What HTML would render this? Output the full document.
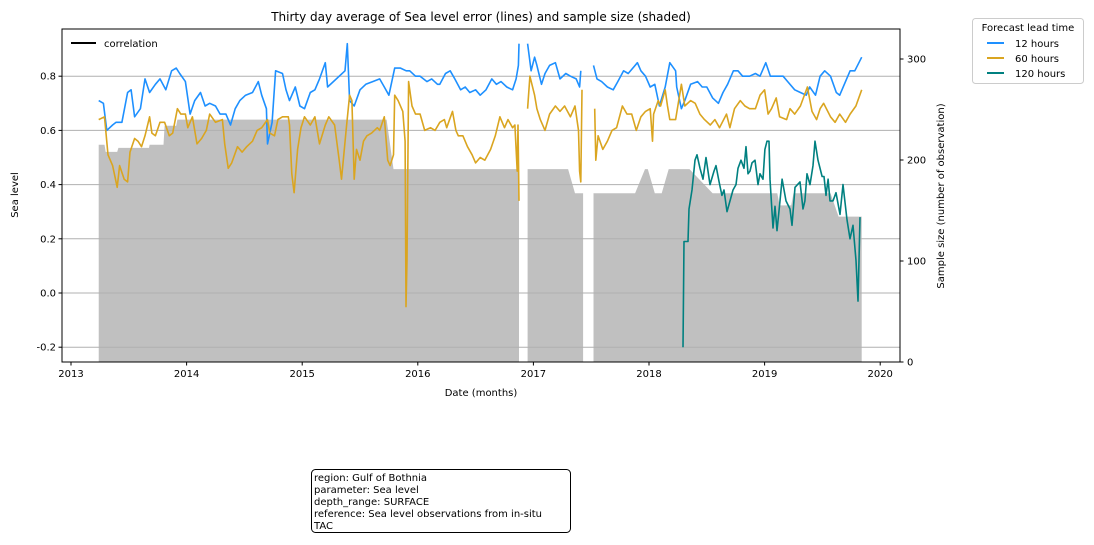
<!DOCTYPE html>
<html><head><meta charset="utf-8"><style>
body{margin:0;background:#fff;width:1094px;height:540px;overflow:hidden;font-family:"Liberation Sans","DejaVu Sans",sans-serif}
svg text{font-family:"DejaVu Sans","Liberation Sans",sans-serif;fill:#000}
</style></head><body>
<svg id="chart" width="1094" height="540" xmlns="http://www.w3.org/2000/svg">
<text x="481" y="21" font-size="12" text-anchor="middle">Thirty day average of Sea level error (lines) and sample size (shaded)</text>
<g id="plot"></g>
<rect x="62" y="29" width="838" height="333" fill="none" stroke="#000" stroke-width="1"/>
<g id="axes" font-size="10"></g>
<text transform="translate(18,195) rotate(-90)" font-size="10" text-anchor="middle">Sea level</text>
<text transform="translate(944,196) rotate(-90)" font-size="10" text-anchor="middle">Sample size (number of observation)</text>
<text x="481" y="396" font-size="10" text-anchor="middle">Date (months)</text>
<g>
<line x1="71" y1="43" x2="96" y2="43" stroke="#000" stroke-width="2"/>
<text x="104" y="47" font-size="10">correlation</text>
</g>
<g>
<rect x="972.5" y="18.5" width="111" height="65" rx="3" fill="#fff" stroke="#ccc"/>
<text x="1028" y="31" font-size="10" text-anchor="middle">Forecast lead time</text>
<line x1="987" y1="43" x2="1004" y2="43" stroke="#1e90ff" stroke-width="2"/>
<text x="1015" y="47" font-size="10">12 hours</text>
<line x1="987" y1="58" x2="1004" y2="58" stroke="#daa520" stroke-width="2"/>
<text x="1015" y="62" font-size="10">60 hours</text>
<line x1="987" y1="73" x2="1004" y2="73" stroke="#008080" stroke-width="2"/>
<text x="1015" y="77" font-size="10">120 hours</text>
</g>
<g>
<rect x="311.5" y="469.5" width="259" height="63" rx="4" fill="#fff" stroke="#000"/>
<text x="314" y="481" font-size="10">region: Gulf of Bothnia</text>
<text x="314" y="493" font-size="10">parameter: Sea level</text>
<text x="314" y="505" font-size="10">depth_range: SURFACE</text>
<text x="314" y="517" font-size="10">reference: Sea level observations from in-situ</text>
<text x="314" y="529" font-size="10">TAC</text>
</g>
</svg>
<script>
const yTicks=[-0.2,0,0.2,0.4,0.6,0.8];
const y2Ticks=[0,100,200,300];
const xTicks=[2013,2014,2015,2016,2017,2018,2019,2020];
const t12=[2013.24,2013.28,2013.31,2013.36,2013.39,2013.44,2013.49,2013.52,2013.55,2013.60,2013.64,2013.68,2013.73,2013.77,2013.82,2013.87,2013.91,2013.94,2013.99,2014.03,2014.07,2014.12,2014.16,2014.20,2014.25,2014.29,2014.34,2014.38,2014.42,2014.46,2014.51,2014.57,2014.62,2014.65,2014.69,2014.70,2014.74,2014.77,2014.83,2014.86,2014.89,2014.94,2014.98,2015.02,2015.07,2015.11,2015.15,2015.20,2015.22,2015.37,2015.39,2015.41,2015.45,2015.50,2015.55,2015.61,2015.67,2015.71,2015.75,2015.80,2015.85,2015.90,2015.93,2015.98,2016.02,2016.08,2016.12,2016.17,2016.19,2016.24,2016.28,2016.32,2016.37,2016.41,2016.45,2016.50,2016.54,2016.59,2016.64,2016.68,2016.72,2016.77,2016.82,2016.85,2016.87,2016.875,null,2016.95,2016.98,2017.01,2017.03,2017.07,2017.10,2017.14,2017.19,2017.23,2017.28,2017.32,2017.37,2017.40,2017.41,null,2017.52,2017.55,2017.59,2017.64,2017.69,2017.73,2017.78,2017.82,2017.86,2017.90,2017.93,2017.97,2018.01,2018.05,2018.09,2018.14,2018.18,2018.23,2018.24,2018.28,2018.31,2018.36,2018.42,2018.46,2018.50,2018.55,2018.60,2018.64,2018.68,2018.73,2018.77,2018.81,2018.87,2018.92,2018.96,2019.01,2019.05,2019.11,2019.16,2019.20,2019.26,2019.31,2019.36,2019.39,2019.44,2019.48,2019.52,2019.57,2019.62,2019.65,2019.70,2019.74,2019.78,2019.84];
const v12=[0.71,0.70,0.60,0.62,0.63,0.63,0.74,0.75,0.65,0.68,0.79,0.74,0.77,0.79,0.75,0.82,0.83,0.81,0.78,0.66,0.71,0.74,0.69,0.70,0.69,0.66,0.66,0.62,0.68,0.71,0.73,0.74,0.78,0.73,0.68,0.55,0.63,0.82,0.81,0.75,0.71,0.76,0.69,0.68,0.74,0.75,0.79,0.85,0.76,0.82,0.92,0.71,0.69,0.75,0.77,0.78,0.79,0.76,0.73,0.83,0.83,0.82,0.82,0.80,0.80,0.78,0.79,0.77,0.77,0.81,0.82,0.79,0.75,0.76,0.74,0.75,0.73,0.75,0.79,0.77,0.78,0.76,0.75,0.79,0.84,0.92,null,0.92,0.82,0.87,0.84,0.77,0.81,0.84,0.85,0.79,0.81,0.80,0.79,0.76,0.82,null,0.84,0.79,0.78,0.76,0.75,0.78,0.82,0.81,0.83,0.85,0.82,0.80,0.76,0.77,0.69,0.76,0.85,0.82,0.76,0.68,0.71,0.77,0.78,0.76,0.76,0.72,0.70,0.74,0.77,0.82,0.82,0.80,0.80,0.81,0.80,0.85,0.80,0.80,0.80,0.78,0.75,0.74,0.73,0.76,0.73,0.80,0.82,0.80,0.74,0.73,0.78,0.82,0.82,0.87];
const t60=[2013.24,2013.29,2013.32,2013.36,2013.40,2013.42,2013.46,2013.49,2013.51,2013.55,2013.58,2013.61,2013.64,2013.68,2013.70,2013.73,2013.77,2013.81,2013.85,2013.88,2013.92,2013.95,2013.99,2014.01,2014.05,2014.09,2014.13,2014.17,2014.20,2014.25,2014.31,2014.33,2014.36,2014.39,2014.44,2014.48,2014.52,2014.57,2014.61,2014.65,2014.70,2014.72,2014.76,2014.79,2014.83,2014.88,2014.89,2014.91,2014.93,2014.96,2014.99,2015.02,2015.07,2015.11,2015.15,2015.20,2015.23,2015.28,2015.32,2015.34,2015.38,2015.41,2015.43,2015.45,2015.47,2015.50,2015.53,2015.56,2015.60,2015.65,2015.67,2015.71,2015.74,2015.76,2015.79,2015.80,2015.83,2015.87,2015.89,2015.898,2015.907,2015.92,2015.95,2015.98,2016.02,2016.06,2016.11,2016.15,2016.19,2016.23,2016.25,2016.30,2016.33,2016.35,2016.39,2016.43,2016.47,2016.50,2016.54,2016.58,2016.63,2016.67,2016.71,2016.75,2016.78,2016.82,2016.84,2016.86,2016.867,2016.875,null,2016.95,2016.97,2017.01,2017.03,2017.06,2017.10,2017.14,2017.19,2017.23,2017.27,2017.32,2017.36,2017.39,2017.40,2017.41,2017.42,null,2017.53,2017.54,2017.56,2017.60,2017.64,2017.68,2017.72,2017.77,2017.81,2017.85,2017.89,2017.93,2017.97,2018.01,2018.03,2018.04,2018.08,2018.10,2018.14,2018.16,2018.18,2018.23,2018.28,2018.31,2018.36,2018.40,2018.44,2018.48,2018.53,2018.57,2018.61,2018.67,2018.70,2018.74,2018.79,2018.83,2018.87,2018.92,2018.96,2019.00,2019.03,2019.06,2019.10,2019.13,2019.19,2019.22,2019.26,2019.31,2019.37,2019.41,2019.45,2019.48,2019.51,2019.57,2019.61,2019.65,2019.70,2019.74,2019.79,2019.84];
const v60=[0.64,0.65,0.51,0.47,0.39,0.47,0.42,0.41,0.52,0.57,0.56,0.54,0.58,0.65,0.59,0.58,0.63,0.63,0.58,0.59,0.68,0.66,0.66,0.61,0.65,0.55,0.57,0.60,0.66,0.63,0.64,0.55,0.46,0.48,0.54,0.52,0.54,0.56,0.60,0.61,0.64,0.59,0.58,0.64,0.65,0.65,0.62,0.44,0.37,0.53,0.61,0.65,0.62,0.65,0.55,0.62,0.65,0.62,0.49,0.42,0.60,0.73,0.71,0.42,0.53,0.49,0.56,0.58,0.59,0.61,0.60,0.65,0.49,0.47,0.51,0.73,0.71,0.67,0.56,-0.05,0.12,0.78,0.69,0.66,0.66,0.60,0.61,0.60,0.63,0.64,0.61,0.67,0.60,0.58,0.58,0.54,0.51,0.48,0.50,0.49,0.53,0.58,0.65,0.61,0.64,0.61,0.62,0.45,0.62,0.34,null,0.68,0.80,0.73,0.68,0.64,0.60,0.66,0.69,0.67,0.69,0.65,0.69,0.60,0.45,0.41,0.75,null,0.68,0.49,0.58,0.53,0.56,0.60,0.61,0.69,0.66,0.66,0.60,0.65,0.67,0.68,0.56,0.66,0.71,0.69,0.75,0.69,0.64,0.64,0.77,0.69,0.71,0.70,0.66,0.64,0.62,0.64,0.61,0.66,0.61,0.68,0.71,0.69,0.68,0.68,0.73,0.75,0.66,0.68,0.72,0.65,0.64,0.68,0.66,0.69,0.76,0.67,0.64,0.68,0.70,0.65,0.63,0.66,0.63,0.66,0.69,0.75];
const t120=[2018.294,2018.303,2018.337,2018.346,2018.372,2018.398,2018.415,2018.441,2018.467,2018.493,2018.528,2018.562,2018.580,2018.606,2018.631,2018.649,2018.675,2018.701,2018.727,2018.753,2018.770,2018.796,2018.822,2018.839,2018.856,2018.874,2018.891,2018.917,2018.943,2018.960,2018.986,2019.003,2019.021,2019.038,2019.047,2019.073,2019.090,2019.107,2019.133,2019.151,2019.185,2019.220,2019.237,2019.263,2019.306,2019.332,2019.349,2019.367,2019.393,2019.419,2019.436,2019.462,2019.497,2019.514,2019.531,2019.549,2019.566,2019.592,2019.618,2019.652,2019.678,2019.713,2019.739,2019.765,2019.791,2019.808,2019.817,2019.825];
const v120=[-0.20,0.19,0.19,0.31,0.38,0.49,0.51,0.46,0.42,0.50,0.40,0.45,0.47,0.41,0.36,0.38,0.30,0.34,0.38,0.40,0.46,0.49,0.46,0.54,0.44,0.45,0.48,0.49,0.40,0.44,0.42,0.53,0.56,0.56,0.42,0.24,0.32,0.23,0.34,0.42,0.34,0.31,0.25,0.39,0.41,0.31,0.34,0.44,0.40,0.47,0.56,0.49,0.43,0.43,0.36,0.42,0.34,0.34,0.37,0.29,0.40,0.27,0.20,0.25,0.12,-0.03,0.12,0.28];
const tN=[2013.24,2013.29,2013.30,2013.40,2013.41,2013.675,2013.68,2013.80,2013.81,2013.91,2013.92,2015.73,2015.79,2016.875,null,2016.95,2017.30,2017.36,2017.43,null,2017.52,2017.88,2017.965,2017.99,2018.05,2018.11,2018.17,2018.35,2018.55,2019.11,2019.13,2019.23,2019.25,2019.57,2019.64,2019.84];
const vN=[215,215,208,208,212,212,215,215,234,234,240,240,191,191,null,191,191,167,167,null,167,167,191,191,167,167,191,191,167,167,155,155,167,167,144,144];

const X0=62,X1=900,Y0=29,Y1=362;
const xs=t=>71+(t-2013)*115.6;
const ys=v=>293-v*271;
const yn=n=>362-n*1.01;
const NS='http://www.w3.org/2000/svg';
const plot=document.getElementById('plot');
const axes=document.getElementById('axes');
function mk(tag,attrs,parent){const e=document.createElementNS(NS,tag);for(const k in attrs)e.setAttribute(k,attrs[k]);parent.appendChild(e);return e;}
function segments(T,V){const segs=[];let cur=[];T.forEach((t,i)=>{if(t===null||V[i]===null){if(cur.length)segs.push(cur);cur=[];}else cur.push([t,V[i]]);});if(cur.length)segs.push(cur);return segs;}
// sample area
segments(tN,vN).forEach(s=>{
 let d='M'+xs(s[0][0])+','+Y1;
 s.forEach(p=>{d+=' L'+xs(p[0]).toFixed(1)+','+yn(p[1]).toFixed(1);});
 d+=' L'+xs(s[s.length-1][0]).toFixed(1)+','+Y1+' Z';
 const p=mk('path',{d:d,fill:'#c0c0c0'},plot);
 
 
});
// grid
yTicks.forEach(v=>{
 const g=mk('line',{x1:X0,x2:X1,y1:ys(v),y2:ys(v),stroke:'#b0b0b0','stroke-width':1},plot);
 
 
});
function line(T,V,color,name){
 segments(T,V).forEach(s=>{
  const p=mk('path',{d:'M'+s.map(q=>xs(q[0]).toFixed(1)+','+ys(q[1]).toFixed(1)).join(' L'),fill:'none',stroke:color,'stroke-width':1.6,'stroke-linejoin':'round'},plot);
  
  
 });
}
line(t12,v12,'#1e90ff','series-12-hours');
line(t60,v60,'#daa520','series-60-hours');
line(t120,v120,'#008080','series-120-hours');
// axes ticks
yTicks.forEach(v=>{
 const y=ys(v);
 mk('line',{x1:X0-3.5,x2:X0,y1:y,y2:y,stroke:'#000'},axes);
 const t=mk('text',{x:X0-6,y:y+3.5,'text-anchor':'end'},axes);
 t.textContent=v.toFixed(1);
 
 
});
y2Ticks.forEach(n=>{
 const y=yn(n);
 mk('line',{x1:X1,x2:X1+3.5,y1:y,y2:y,stroke:'#000'},axes);
 const t=mk('text',{x:X1+7,y:y+3.5},axes);
 t.textContent=n;
 
 
});
xTicks.forEach(yr=>{
 const x=xs(yr);
 mk('line',{x1:x,x2:x,y1:Y1,y2:Y1+3.5,stroke:'#000'},axes);
 const t=mk('text',{x:x,y:Y1+15,'text-anchor':'middle'},axes);
 t.textContent=yr;
 
 
});
</script>
</body></html>
